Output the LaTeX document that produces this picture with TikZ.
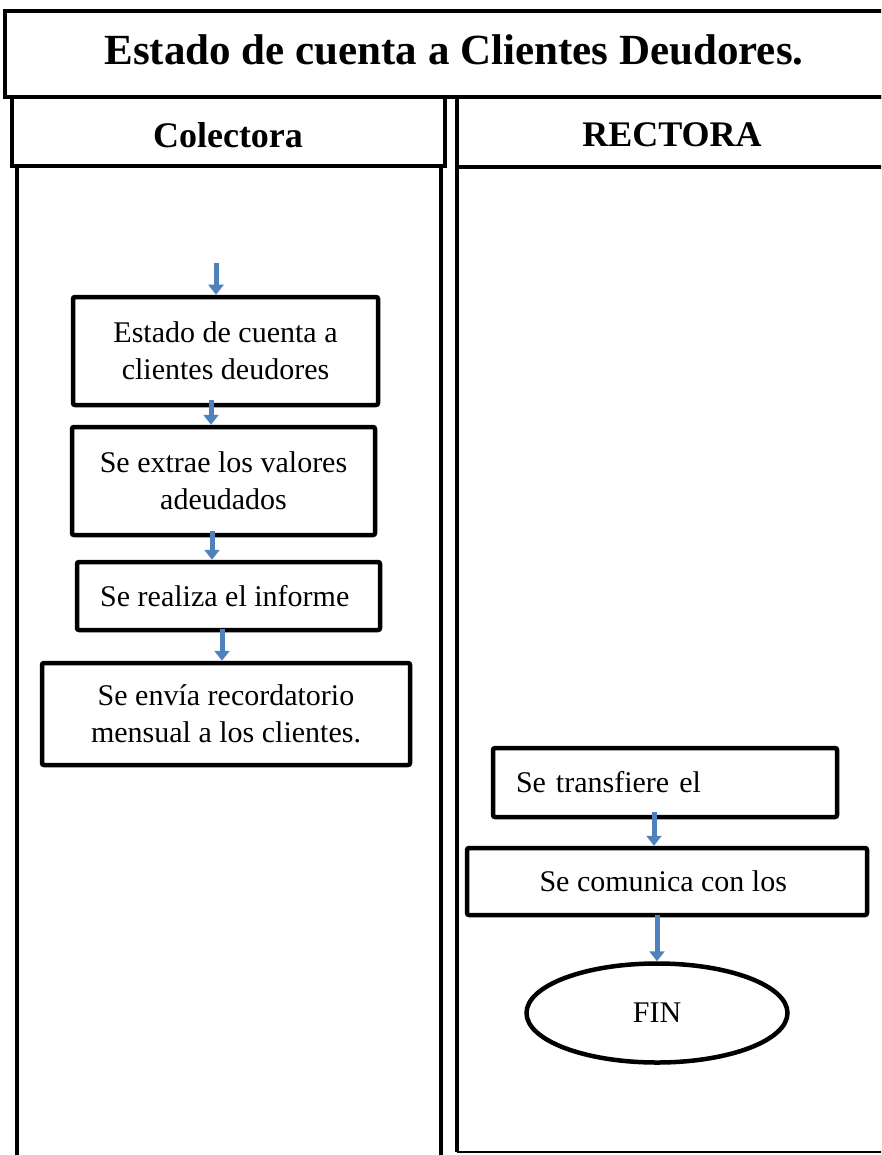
\documentclass[tikz,border=0pt]{standalone}
\usepackage{fontspec}
\setmainfont{Liberation Serif}
\usepackage{tikz}
\usetikzlibrary{shapes.geometric, arrows.meta, positioning}
\definecolor{flechaazul}{RGB}{79,129,189}

\begin{document}
\begin{tikzpicture}[
    x=1pt, y=-1pt,
    % Estilo para el marco y las líneas de los carriles
    marco/.style={
      draw=black,
      line width=4pt
    },
    % Estilo para el título general
    titulo/.style={
      font=\bfseries\fontsize{43}{50}\selectfont
    },
    % Estilo para los nombres de los carriles
    carril/.style={
      font=\bfseries\fontsize{36}{42}\selectfont
    },
    % Estilo para las cajas del proceso
    paso/.style={
      rectangle,
      draw=black,
      line width=4.5pt,
      rounded corners=2pt,
      fill=white,
      inner sep=0pt,
      align=center,
      font=\fontsize{30}{37}\selectfont
    },
    % Estilo para el final
    fin/.style={
      ellipse,
      draw=black,
      line width=4.5pt,
      inner sep=0pt,
      font=\fontsize{30}{36}\selectfont
    },
    % Estilo para las flechas azules
    flecha/.style={
      draw=flechaazul,
      line width=5pt,
      -{Triangle[width=15pt,length=10pt]}
    }
  ]

  \useasboundingbox (0,0) rectangle (881,1155);
  \clip (0,0) rectangle (881,1155);

  % --- MARCO Y CARRILES ---

  % Título
  \draw[marco] (5,11) rectangle (905,97);
  \node[titulo] (titulo) at (454,50) {Estado de cuenta a Clientes Deudores.};

  % Encabezados
  \draw[marco] (12,97) rectangle (445,166);
  \node[carril] (colectora) at (228,135) {Colectora};
  \draw[marco] (457,97) rectangle (905,167);
  \node[carril] (rectora) at (672,135) {RECTORA};

  % Líneas de los carriles
  \draw[marco] (17,166) -- (17,1170);
  \draw[marco] (441,166) -- (441,1170);
  \draw[marco] (457,167) -- (457,1152);
  \draw[black, line width=2pt] (457,1152) -- (905,1152);

  % --- CAJAS: COLECTORA ---
  \node[paso, minimum width=305pt, minimum height=108pt] (estado) at (225.5,351) {
    Estado de cuenta a\\clientes deudores
  };
  \node[paso, minimum width=303pt, minimum height=108pt] (extrae) at (223.5,481) {
    Se extrae los valores\\adeudados
  };
  \node[paso, minimum width=303pt, minimum height=68pt] (informe) at (228.5,596) {
    Se realiza el informe
  };
  \node[paso, minimum width=368pt, minimum height=102pt] (recordatorio) at (226,714) {
    Se envía recordatorio\\mensual a los clientes.
  };

  % --- CAJAS: RECTORA ---
  \node[paso, minimum width=344pt, minimum height=69pt, text width=298pt, inner xsep=23pt, align=left] (transfiere) at (665,782.5) {
    Se transfiere el
  };
  \node[paso, minimum width=400pt, minimum height=67pt] (comunica) at (667,881.5) {
    Se comunica con los
  };
  \node[fin, minimum width=261pt, minimum height=99pt] (final) at (657,1013) {FIN};

  % --- FLECHAS ---
  \coordinate (inicio) at (216,263);
  \draw[flecha] (inicio) -- (inicio |- estado.north);
  \draw[flecha] ([xshift=-14.5pt,yshift=7pt]estado.south) -- ([xshift=-12.5pt]extrae.north);
  \draw[flecha] ([xshift=-11.5pt,yshift=6pt]extrae.south) -- ([xshift=-16.5pt]informe.north);
  \draw[flecha] ([xshift=-6.5pt,yshift=3pt]informe.south) -- ([xshift=-4pt]recordatorio.north);
  \draw[flecha] ([xshift=-11pt,yshift=7pt]transfiere.south) -- ([xshift=-13pt]comunica.north);
  \draw[flecha] ([xshift=-10pt,yshift=2pt]comunica.south) -- (final.north);

\end{tikzpicture}
\end{document}
